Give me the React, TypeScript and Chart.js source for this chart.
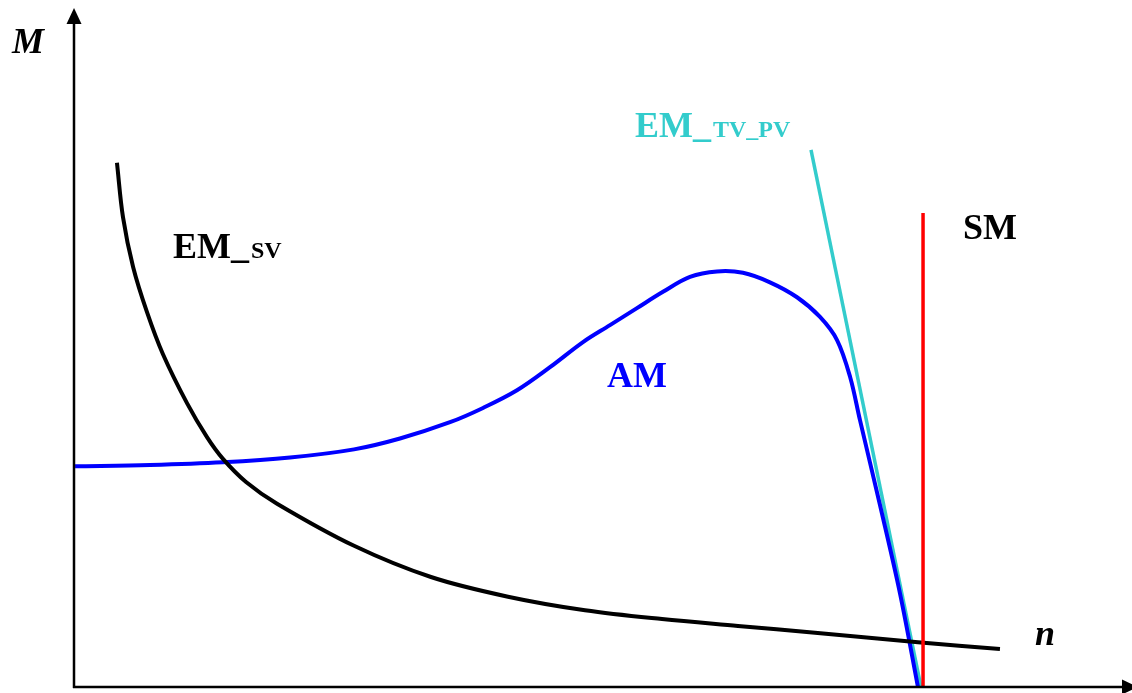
import React, { useEffect, useRef } from "react";
import { Chart, registerables } from "chart.js";

Chart.register(...registerables);

// Speed n (relative units 0..100) and torque M (relative units 0..100)
const emSvN = [4.06, 4.63, 5.58, 6.9, 8.41, 10.68, 12.57, 14.08, 16.26, 19.19, 26.47, 33.74, 41.02, 48.3, 55.58, 62.76, 70.04, 79.77, 87.52];
const emSvM = [77.2, 69.2, 61.9, 55.2, 49.0, 41.8, 36.8, 33.6, 30.2, 27.0, 20.8, 16.2, 13.3, 11.3, 10.0, 9.0, 8.0, 6.6, 5.6];

const amN = [0.1, 7.18, 14.08, 20.42, 26.47, 30.81, 35.54, 38.66, 41.87, 44.99, 48.11, 50.66, 53.21, 55.67, 58.22, 60.78, 63.23, 65.78, 68.34, 70.51, 72.12, 73.35, 74.29, 76.18, 78.07, 79.77];
const amM = [32.5, 32.7, 33.1, 33.8, 35.0, 36.6, 39.0, 41.1, 43.7, 47.1, 50.8, 53.3, 55.8, 58.2, 60.4, 61.2, 61.0, 59.6, 57.4, 54.5, 51.1, 45.7, 39.3, 26.8, 13.8, 0];

const emTvPvN = [69.66, 80.06];
const emTvPvM = [79.1, 0];

const smN = [80.25, 80.25];
const smM = [0, 69.8];

const axisLabels = ["M", "n"];
const seriesLabels = ["EM_", "SV", "EM_", "TV_PV", "SM", "AM"];

const toPts = (xs: number[], ys: number[]) => xs.map((x, i) => ({ x, y: ys[i] }));

const SERIF = "'Liberation Serif', 'Times New Roman', serif";

const decorPlugin = {
  id: "decor",
  afterDraw(chart: any) {
    const { ctx, chartArea } = chart;
    const left = chartArea.left;
    const bottom = chartArea.bottom;
    ctx.save();
    ctx.strokeStyle = "#000";
    ctx.fillStyle = "#000";
    ctx.lineWidth = 2.5;
    ctx.beginPath();
    ctx.moveTo(left, bottom + 1);
    ctx.lineTo(left, 20);
    ctx.moveTo(left - 1, bottom);
    ctx.lineTo(1126, bottom);
    ctx.stroke();
    ctx.beginPath();
    ctx.moveTo(left, 8);
    ctx.lineTo(left - 7.5, 24);
    ctx.lineTo(left + 7.5, 24);
    ctx.closePath();
    ctx.fill();
    ctx.beginPath();
    ctx.moveTo(1138, bottom);
    ctx.lineTo(1122, bottom - 7.5);
    ctx.lineTo(1122, bottom + 7.5);
    ctx.closePath();
    ctx.fill();

    ctx.textBaseline = "alphabetic";
    ctx.textAlign = "left";
    ctx.font = `italic bold 36px ${SERIF}`;
    ctx.fillText(axisLabels[0], 12, 53);
    ctx.fillText(axisLabels[1], 1035, 645);

    ctx.fillStyle = "#000";
    ctx.font = `bold 36px ${SERIF}`;
    ctx.fillText(seriesLabels[0], 173, 258);
    let w = ctx.measureText(seriesLabels[0]).width;
    ctx.font = `bold 24px ${SERIF}`;
    ctx.fillText(seriesLabels[1], 173 + w + 2, 258);

    ctx.fillStyle = "#33CCCC";
    ctx.font = `bold 36px ${SERIF}`;
    ctx.fillText(seriesLabels[2], 635, 137);
    w = ctx.measureText(seriesLabels[2]).width;
    ctx.font = `bold 24px ${SERIF}`;
    ctx.fillText(seriesLabels[3], 635 + w + 2, 137);

    ctx.fillStyle = "#000";
    ctx.font = `bold 36px ${SERIF}`;
    ctx.fillText(seriesLabels[4], 963, 239);

    ctx.fillStyle = "#0000FF";
    ctx.fillText(seriesLabels[5], 607, 387);
    ctx.restore();
  },
};

export default function App() {
  const ref = useRef<HTMLCanvasElement | null>(null);
  useEffect(() => {
    if (!ref.current) return;
    const common = {
      pointRadius: 0,
      fill: false,
      borderCapStyle: "butt",
      borderJoinStyle: "round",
    };
    const chart = new Chart(ref.current, {
      type: "line",
      data: {
        datasets: [
          { ...common, label: "SM", data: toPts(smN, smM), borderColor: "#FF0000", borderWidth: 3.5, tension: 0 },
          { ...common, label: "EM_SV", data: toPts(emSvN, emSvM), borderColor: "#000000", borderWidth: 4, tension: 0.35 },
          { ...common, label: "AM", data: toPts(amN, amM), borderColor: "#0000FF", borderWidth: 4, tension: 0.35 },
          { ...common, label: "EM_TV_PV", data: toPts(emTvPvN, emTvPvM), borderColor: "#33CCCC", borderWidth: 3.5, tension: 0 },
        ] as any,
      },
      options: {
        responsive: false,
        animation: false,
        layout: { padding: { left: 74, right: 0, top: 8, bottom: 6 } },
        plugins: { legend: { display: false }, tooltip: { enabled: false } },
        scales: {
          x: { type: "linear", min: 0, max: 100, display: false },
          y: { type: "linear", min: 0, max: 100, display: false },
        },
      } as any,
      plugins: [decorPlugin],
    });
    return () => chart.destroy();
  }, []);
  return (
    <div style={{ position: "absolute", left: 0, top: 0, width: 1132, height: 693, background: "#fff" }}>
      <canvas ref={ref} width={1132} height={693} style={{ display: "block" }} />
    </div>
  );
}
